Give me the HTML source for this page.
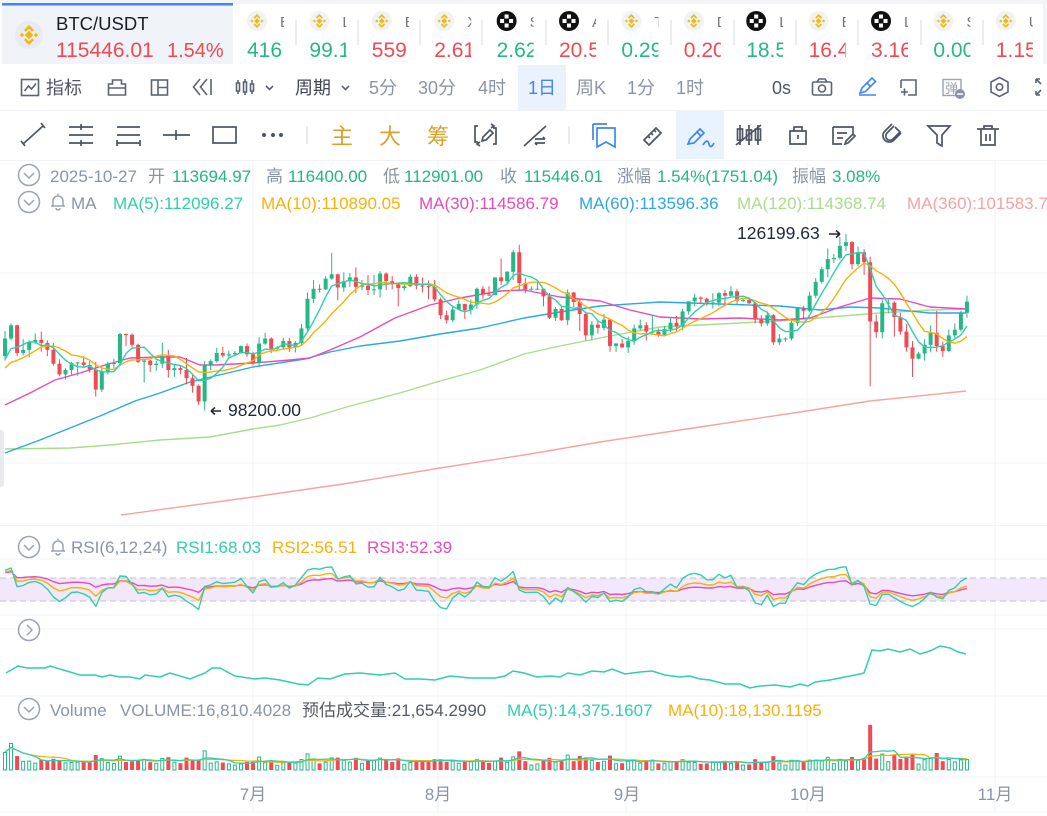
<!DOCTYPE html>
<html><head><meta charset="utf-8">
<style>
*{margin:0;padding:0;box-sizing:border-box}
html,body{width:1047px;height:816px;overflow:hidden;background:#fff}
svg{position:absolute;left:0;top:0}
</style></head><body>
<svg id="root" width="1047" height="816" viewBox="0 0 1047 816" font-family="'Liberation Sans','Noto Sans CJK SC',sans-serif">
<!-- top ticker row -->
<rect x="0" y="0" width="1047" height="4" fill="#F2F4F7"/>
<rect x="2" y="3" width="231" height="61" fill="#F0F3F8"/>
<rect x="2" y="3" width="231" height="2.5" fill="#3D86F5"/>
<rect x="1043" y="0" width="4" height="64" fill="#F2F4F7"/>
<g transform="translate(29,35)">
<circle r="14" fill="#E8ECF2"/>
<g fill="#F0B90B">
<rect x="-3" y="-3" width="6" height="6" transform="rotate(45)"/>
<rect x="-1.6" y="-1.6" width="3.2" height="3.2" transform="translate(-7,0) rotate(45)"/>
<rect x="-1.6" y="-1.6" width="3.2" height="3.2" transform="translate(7,0) rotate(45)"/>
<path d="M-5,-5 L0,-10 L5,-5 L3.2,-3.2 L0,-6.4 L-3.2,-3.2Z"/>
<path d="M-5,5 L0,10 L5,5 L3.2,3.2 L0,6.4 L-3.2,3.2Z"/>
</g></g>
<text x="56" y="30" font-size="18.5" fill="#1B1F26">BTC/USDT</text>
<text x="56" y="57" font-size="21" fill="#EF4A52">115446.01</text>
<text x="167" y="57" font-size="20" fill="#EF4A52">1.54%</text>

<defs>
<g id="bn"><circle r="10" fill="#F1F2F4"/><g fill="#F0B90B"><rect x="-2" y="-2" width="4" height="4" transform="rotate(45)"/><rect x="-1.1" y="-1.1" width="2.2" height="2.2" transform="translate(-5,0) rotate(45)"/><rect x="-1.1" y="-1.1" width="2.2" height="2.2" transform="translate(5,0) rotate(45)"/><path d="M-3.5,-3.5 L0,-7 L3.5,-3.5 L2.3,-2.3 L0,-4.6 L-2.3,-2.3Z"/><path d="M-3.5,3.5 L0,7 L3.5,3.5 L2.3,2.3 L0,4.6 L-2.3,2.3Z"/></g></g>
<g id="ok"><circle r="10" fill="#111"/><g fill="#fff"><rect x="-2" y="-6.5" width="4" height="4"/><rect x="-2" y="2.5" width="4" height="4"/><rect x="-6.5" y="-2" width="4" height="4"/><rect x="2.5" y="-2" width="4" height="4"/></g></g>
</defs>
<g font-size="21">
<svg x="247" y="0" width="37" height="64"><use href="#bn" x="10" y="21"/><text x="33" y="27" font-size="15" fill="#777">ETH</text><text x="0" y="57" fill="#26B787">416</text></svg>
<svg x="309.4" y="0" width="37" height="64"><use href="#bn" x="10" y="21"/><text x="33" y="27" font-size="15" fill="#777">LTC</text><text x="0" y="57" fill="#26B787">99.1</text></svg>
<svg x="371.8" y="0" width="37" height="64"><use href="#bn" x="10" y="21"/><text x="33" y="27" font-size="15" fill="#777">ETC</text><text x="0" y="57" fill="#EF4A52">559</text></svg>
<svg x="434.2" y="0" width="37" height="64"><use href="#bn" x="10" y="21"/><text x="33" y="27" font-size="15" fill="#777">XRP</text><text x="0" y="57" fill="#EF4A52">2.61</text></svg>
<svg x="496.6" y="0" width="37" height="64"><use href="#ok" x="10" y="21"/><text x="33" y="27" font-size="15" fill="#777">SUI</text><text x="0" y="57" fill="#26B787">2.62</text></svg>
<svg x="559" y="0" width="37" height="64"><use href="#ok" x="10" y="21"/><text x="33" y="27" font-size="15" fill="#777">AVAX</text><text x="0" y="57" fill="#EF4A52">20.56</text></svg>
<svg x="621.4" y="0" width="37" height="64"><use href="#bn" x="10" y="21"/><text x="33" y="27" font-size="15" fill="#777">TRX</text><text x="0" y="57" fill="#26B787">0.298</text></svg>
<svg x="683.8" y="0" width="37" height="64"><use href="#bn" x="10" y="21"/><text x="33" y="27" font-size="15" fill="#777">DOGE</text><text x="0" y="57" fill="#EF4A52">0.201</text></svg>
<svg x="746.2" y="0" width="37" height="64"><use href="#ok" x="10" y="21"/><text x="33" y="27" font-size="15" fill="#777">LINK</text><text x="0" y="57" fill="#26B787">18.53</text></svg>
<svg x="808.6" y="0" width="37" height="64"><use href="#bn" x="10" y="21"/><text x="33" y="27" font-size="15" fill="#777">ETC</text><text x="0" y="57" fill="#EF4A52">16.42</text></svg>
<svg x="871" y="0" width="37" height="64"><use href="#ok" x="10" y="21"/><text x="33" y="27" font-size="15" fill="#777">LDO</text><text x="0" y="57" fill="#EF4A52">3.162</text></svg>
<svg x="933.4" y="0" width="37" height="64"><use href="#bn" x="10" y="21"/><text x="33" y="27" font-size="15" fill="#777">SHIB</text><text x="0" y="57" fill="#26B787">0.008</text></svg>
<svg x="995.8" y="0" width="37" height="64"><use href="#bn" x="10" y="21"/><text x="33" y="27" font-size="15" fill="#777">UNI</text><text x="0" y="57" fill="#EF4A52">1.158</text></svg>
</g>
<g stroke="#E3E6EB" stroke-width="1.5">
<line x1="296" y1="20" x2="296" y2="45"/><line x1="358" y1="20" x2="358" y2="45"/><line x1="420" y1="20" x2="420" y2="45"/><line x1="482" y1="20" x2="482" y2="45"/><line x1="546" y1="20" x2="546" y2="45"/><line x1="608" y1="20" x2="608" y2="45"/><line x1="671" y1="20" x2="671" y2="45"/><line x1="734" y1="20" x2="734" y2="45"/><line x1="796" y1="20" x2="796" y2="45"/><line x1="858" y1="20" x2="858" y2="45"/><line x1="921" y1="20" x2="921" y2="45"/><line x1="983" y1="20" x2="983" y2="45"/>
</g>

<!-- second toolbar -->
<rect x="518" y="65" width="48" height="45" fill="#EAF2FD"/>
<g fill="none" stroke="#5B6475" stroke-width="1.6">
<rect x="21.5" y="79.5" width="17" height="16"/><polyline points="24.5,91 28.5,86 31.5,89 36,83.5"/>
<path d="M112.5,80 h9 v4 h4 v11 h-17 v-11 h4 z M108.5,88 h17"/>
<rect x="151.5" y="80" width="16" height="15"/><path d="M158,80 v15 M158,87.5 h9.5"/>
<path d="M200,79 L193.5,87 L200,95 M207,79 L200.5,87 L207,95 M211,79 v16"/>
<path d="M238,80 v14 M245,79 v16 M252,80 v14"/><rect x="236.5" y="83" width="3" height="8" fill="#fff"/><rect x="243.5" y="82" width="3" height="10" fill="#fff"/><rect x="250.5" y="84" width="3" height="7" fill="#fff"/>
<polyline points="266,86 269.5,89.5 273,86"/>
<polyline points="342,86 345.5,89.5 349,86"/>
<rect x="812.5" y="82" width="19" height="13" rx="1.5"/><path d="M817,82 l2,-3 h6 l2,3"/><circle cx="822" cy="88.5" r="3.5"/>
<path d="M901,80 h15 v15 h-8 M901,80 v8 M901,92 h7 M904.5,88.5 v7"/>
<path d="M991,82 L999.5,77.5 L1008,82 V92 L999.5,96.5 L991,92 Z"/><circle cx="999.5" cy="87" r="3.2"/>
<path d="M1036,79 l5,5 M1036,79 h4 M1036,79 v4 M1036,95 l5,-5 M1036,95 h4 M1036,95 v-4"/>
</g>
<g fill="none" stroke="#3D86F5" stroke-width="1.6"><path d="M860,93 l2,-5 l10,-10 l3.5,3.5 l-10,10 z M867,83 l3.5,3.5 M859,95 h17"/></g>
<rect x="943" y="79.5" width="18" height="16" fill="none" stroke="#9AA3B2" stroke-width="1.4"/>
<text x="945" y="93" font-size="13" fill="#9AA3B2">弹</text>
<circle cx="960" cy="94" r="5" fill="#8A94A6"/><rect x="957" y="93.3" width="6" height="1.5" fill="#fff"/>
<g font-size="18">
<text x="46" y="94" fill="#4D5666">指标</text>
<text x="295" y="94" fill="#3F4756">周期</text>
<text x="369" y="94" fill="#8A94A6">5分</text>
<text x="418" y="94" fill="#8A94A6">30分</text>
<text x="478" y="94" fill="#8A94A6">4时</text>
<text x="528" y="94" fill="#3D86F5">1日</text>
<text x="576" y="94" fill="#8A94A6">周K</text>
<text x="627" y="94" fill="#8A94A6">1分</text>
<text x="676" y="94" fill="#8A94A6">1时</text>
<text x="772" y="94" fill="#4D5666">0s</text>
</g>
<line x1="0" y1="110.5" x2="1047" y2="110.5" stroke="#F0F2F5"/>

<!-- third toolbar -->
<rect x="676" y="111" width="48" height="48" fill="#E8F3FE"/>
<g fill="none" stroke="#4B5563" stroke-width="1.7">
<path d="M23,144 L43,126 M21,141 l4,5 M41,123 l4,5"/>
<path d="M69,127 h24 M69,135 h24 M69,143 h24 M81,124 v6 M81,140 v6"/>
<path d="M117,127 h23 M117,135 h23 M117,143 h23 M117,140 v6 M140,140 v6"/>
<path d="M163,135 h27 M176,130 v10"/>
<rect x="213" y="127" width="23" height="16"/>
<line x1="307" y1="126" x2="307" y2="144" stroke="#E5E7EB"/>
<path d="M478,126 h-3 v16 h3 M493,144 h3 v-16 h-3 M482,141 l1,-4 l7,-7 l3,3 l-7,7 z M491,124 l3,2 l-3,2 M480,146 l-3,-2 l3,-2"/>
<path d="M524,146 L546,126 M535,139 h10 M535,143 h10 M543,137 l2,2 M537,145 l-2,-2"/>
<line x1="569" y1="126" x2="569" y2="144" stroke="#E5E7EB"/>
<path d="M644,140 l12,-12 l5,5 l-12,12 z M648,136 l2,2 M651,133 l2,2 M654,130 l2,2"/>
<path d="M740,125 v20 M749,125 v20 M758,125 v20 M736,145 l25,-20"/><rect x="737.5" y="129" width="5" height="11"/><rect x="746.5" y="130" width="5" height="10"/><rect x="755.5" y="129" width="5" height="11"/>
<path d="M790,131 h16 v13 h-16 z M794,131 v-4 h8 v4 M798,135 v4"/>
<path d="M833,127 h20 v7 M833,127 v17 h9 M837,133 h10 M837,138 h6 M845,144 l1,-3 l7,-7 l2,2 l-7,7 z"/>
<path d="M895,127 l5,5 l-7,7 a4,4 0 0 1 -6,-6 l7,-7 M886,128 l0,0"/><path d="M892,124 l-8,8 a6.5,6.5 0 0 0 9,9 l8,-8"/>
<path d="M928,126 h22 l-8,9 v11 l-5,-3 v-8 z"/>
<path d="M977,129 h22 M981,129 v16 h14 v-16 M984,129 v-3 h8 v3 M986,134 v7 M990,134 v7"/>
</g>
<g fill="#4B5563"><circle cx="264" cy="135" r="2"/><circle cx="273" cy="135" r="2"/><circle cx="281" cy="135" r="2"/></g>
<g fill="none" stroke="#3D86F5" stroke-width="1.7">
<path d="M593,124 h14 M593,124 v16 M597,128 h18 v19 l-9,-5 l-9,5 z"/>
<path d="M688,144 l2,-5 l10,-10 l4,4 l-10,10 z M697,132 l4,4 M703,145 c3,-5 5,-5 6,-1 c1,4 3,3 5,-1"/>
</g>
<g font-size="22" fill="#D9A32B">
<text x="331" y="144">主</text><text x="379" y="144">大</text><text x="427" y="144">筹</text>
</g>
<line x1="0" y1="160.5" x2="1047" y2="160.5" stroke="#F0F2F5"/>

<!-- grid -->
<g stroke="#F2F3F5" stroke-width="1">
<line x1="253" y1="161" x2="253" y2="812"/><line x1="438" y1="161" x2="438" y2="812"/><line x1="626" y1="161" x2="626" y2="812"/><line x1="807" y1="161" x2="807" y2="812"/><line x1="995" y1="161" x2="995" y2="812"/>
<line x1="0" y1="273" x2="1047" y2="273"/><line x1="0" y1="336" x2="1047" y2="336"/><line x1="0" y1="399" x2="1047" y2="399"/><line x1="0" y1="463" x2="1047" y2="463"/><line x1="0" y1="525.5" x2="1047" y2="525.5"/>
<line x1="0" y1="559" x2="1047" y2="559"/><line x1="0" y1="615" x2="1047" y2="615"/><line x1="0" y1="629" x2="1047" y2="629"/><line x1="0" y1="696" x2="1047" y2="696"/><line x1="0" y1="777" x2="1047" y2="777"/><line x1="0" y1="812" x2="1047" y2="812"/>
</g>

<!-- info rows -->
<defs>
<g id="chev"><circle r="10.5" fill="none" stroke="#9AA3B2" stroke-width="1.5"/><polyline points="-5,-2 0,3 5,-2" fill="none" stroke="#9AA3B2" stroke-width="1.5"/></g>
<g id="bell" fill="none" stroke="#9AA3B2" stroke-width="1.5"><path d="M-7,5 h14 M-5,5 v-5 a5,5 0 0 1 10,0 v5 M0,-6 v-1.5"/><path d="M-2,7 a2,2 0 0 0 4,0"/></g>
</defs>
<use href="#chev" x="29" y="175"/>
<use href="#chev" x="29" y="202"/>
<use href="#bell" x="58" y="201"/>
<g font-size="17">
<text x="50" y="182" fill="#8A94A6">2025-10-27</text>
<text x="148" y="182" fill="#8A94A6">开</text><text x="172" y="182" fill="#21B684">113694.97</text>
<text x="266" y="182" fill="#8A94A6">高</text><text x="288" y="182" fill="#21B684">116400.00</text>
<text x="383" y="182" fill="#8A94A6">低</text><text x="404" y="182" fill="#21B684">112901.00</text>
<text x="500" y="182" fill="#8A94A6">收</text><text x="524" y="182" fill="#21B684">115446.01</text>
<text x="617" y="182" fill="#8A94A6">涨幅</text><text x="657" y="182" fill="#21B684">1.54%(1751.04)</text>
<text x="792" y="182" fill="#8A94A6">振幅</text><text x="832" y="182" fill="#21B684">3.08%</text>
<text x="71" y="209" fill="#8A94A6">MA</text>
<text x="113" y="209" fill="#2FCFAE">MA(5):112096.27</text>
<text x="261" y="209" fill="#F9B109">MA(10):110890.05</text>
<text x="419" y="209" fill="#E84BB8">MA(30):114586.79</text>
<text x="579" y="209" fill="#2AA8E8">MA(60):113596.36</text>
<text x="737" y="209" fill="#A9DD8B">MA(120):114368.74</text>
<text x="907" y="209" fill="#F7A3A3">MA(360):101583.72</text>
</g>

<!-- left handle -->
<rect x="-4" y="430" width="8" height="57" rx="3" fill="#E8EAED"/>

<!-- MA lines hand-drawn -->
<g fill="none" stroke-width="1.4" stroke-linejoin="round">
<polyline stroke="#F7A3A3" points="121,515 253,497 350,483 440,468 524,455 600,442 700,427 800,412 870,401 966,391"/>
<polyline stroke="#A9DD8B" points="5,449 70,448 110,445 160,440 210,437 253,429 280,425 310,418 350,406 400,393 440,381 480,370 524,354 560,346 610,336 660,327 720,324 780,321 830,317 880,313 930,310 966,309"/>
<polyline stroke="#2AA8E8" points="5,453 40,440 70,428 100,416 135,401 160,393 190,382 215,376 253,367 305,359 330,352 360,346 400,341 440,334 480,328 524,318 560,312 600,306 660,302 720,304 780,306 820,310 850,307 880,308 930,313 966,313"/>
<polyline stroke="#E84BB8" points="5,405 30,393 55,380 80,373 105,365 130,358 160,357 180,357 200,365 215,365 253,363 290,360 310,358 330,350 360,337 395,318 430,305 460,298 500,291 524,290 560,297 600,301 630,310 660,317 700,319 740,318 780,320 810,318 840,307 870,298 900,299 930,307 966,309"/>
</g>
<g id="cd"></g>
<g id="ma"></g>

<!-- annotations -->
<path d="M211,411 h10 M211,411 l4,-3.5 M211,411 l4,3.5" stroke="#1F2937" stroke-width="1.5" fill="none"/>
<text x="228" y="416" font-size="17.5" fill="#1F2937">98200.00</text>
<text x="737" y="239" font-size="17.5" fill="#1F2937">126199.63</text>
<path d="M829,234 h11 M840,234 l-4,-3.5 M840,234 l-4,3.5" stroke="#1F2937" stroke-width="1.5" fill="none"/>

<!-- RSI pane -->
<use href="#chev" x="29" y="547"/>
<use href="#bell" x="58" y="546"/>
<g font-size="17">
<text x="71" y="553" fill="#8A94A6">RSI(6,12,24)</text>
<text x="176" y="553" fill="#2FCFAE">RSI1:68.03</text>
<text x="272" y="553" fill="#F9B109">RSI2:56.51</text>
<text x="367" y="553" fill="#E84BB8">RSI3:52.39</text>
</g>
<rect x="0" y="578" width="1047" height="23" fill="#F3E7FC"/>
<line x1="0" y1="578" x2="1047" y2="578" stroke="#C3C3C8" stroke-dasharray="6,4"/>
<line x1="0" y1="601" x2="1047" y2="601" stroke="#C3C3C8" stroke-dasharray="6,4"/>
<g id="rsi"></g>

<!-- collapsed pane -->
<circle cx="29" cy="630" r="10.5" fill="none" stroke="#9AA3B2" stroke-width="1.5"/>
<polyline points="27,625 32,630 27,635" fill="none" stroke="#9AA3B2" stroke-width="1.5"/>
<polyline fill="none" stroke="#2FCFAE" stroke-width="1.5" points="6,673 18,666 27,668 45,668 50,666 70,672 80,675 95,675 102,677 110,675 120,677 130,677 140,679 145,675 160,677 170,673 190,679 205,673 212,668 220,668 235,676 255,679 265,678 280,680 298,684 308,685 318,678 330,679 345,674 360,673 380,675 395,673 405,679 420,679 435,680 450,676 470,678 485,678 495,678 505,676 513,671 524,673 537,677 550,676 560,677 568,673 580,675 592,671 604,672 612,669 625,674 640,672 652,671 665,675 680,677 690,676 700,679 710,680 725,684 740,684 750,688 760,686 775,685 790,687 800,684 808,686 815,682 830,680 845,677 860,674 864,673 872,650 880,651 888,649 900,652 910,649 920,654 930,651 940,646 950,648 958,652 966,654"/>

<!-- volume pane -->
<use href="#chev" x="29" y="709"/>
<g font-size="17">
<text x="50" y="716" fill="#8A94A6">Volume</text>
<text x="120" y="716" fill="#8A94A6">VOLUME:16,810.4028</text>
<text x="302" y="716" fill="#555B66">预估成交量:21,654.2990</text>
<text x="507" y="716" fill="#2FCFAE">MA(5):14,375.1607</text>
<text x="668" y="716" fill="#F9B109">MA(10):18,130.1195</text>
</g>
<g id="vol"></g>

<!-- x axis -->
<g font-size="17" fill="#8A94A6" text-anchor="middle">
<text x="253" y="800">7月</text><text x="438" y="800">8月</text><text x="627" y="800">9月</text><text x="808" y="800">10月</text><text x="995" y="800">11月</text>
</g>
</svg>
<script>
(function(){
var D=[
[106.8,110.8,106.1,109.6],[109.6,112.0,109.3,111.7],[111.7,111.8,106.8,107.3],[107.3,109.5,106.9,107.8],[107.8,109.3,106.6,109.0],[109.0,110.4,108.7,109.4],[109.4,110.7,107.5,108.9],[108.9,109.3,106.8,107.8],[107.8,108.9,105.3,105.6],[105.6,106.3,103.6,103.9],[103.9,104.9,103.1,104.6],
[104.6,105.9,103.9,105.7],[105.7,105.9,103.7,105.8],[105.8,106.8,104.9,105.4],[105.4,106.0,104.2,104.7],[104.7,105.9,100.4,101.5],[101.5,105.0,101.1,104.3],[104.3,105.9,103.9,105.6],[105.6,106.4,104.9,105.7],[105.7,110.5,105.3,110.3],[110.3,110.4,108.4,110.2],
[110.2,110.4,108.2,108.6],[108.6,108.8,105.7,105.9],[105.9,106.2,102.6,106.1],[106.1,106.2,104.3,105.4],[105.4,106.1,104.5,105.6],[105.6,108.9,104.9,106.8],[106.8,107.8,103.4,104.6],[104.6,105.6,103.5,104.9],[104.9,105.3,103.9,104.6],[104.6,106.5,102.3,103.3],
[103.3,104.0,101.0,102.1],[102.1,102.3,99.0,99.6],[99.6,106.0,98.2,105.4],[105.4,106.3,104.6,106.0],[106.0,108.1,105.8,107.3],[107.3,108.3,106.6,106.9],[106.9,107.7,106.4,107.1],[107.1,107.6,106.9,107.3],[107.3,108.5,107.2,108.4],[108.4,108.8,106.7,107.1],
[107.1,107.5,105.3,105.7],[105.7,109.8,105.1,108.8],[108.8,110.5,108.6,109.6],[109.6,109.8,107.3,108.0],[108.0,108.4,107.8,108.2],[108.2,109.7,107.8,109.2],[109.2,109.7,107.5,108.2],[108.2,109.2,107.4,108.9],[108.9,111.9,108.4,111.2],[111.2,116.9,110.6,115.9],
[115.9,118.9,115.2,117.5],[117.5,118.2,116.9,117.4],[117.4,119.5,117.3,119.1],[119.1,123.2,118.9,119.8],[119.8,119.9,115.7,117.7],[117.7,120.1,117.0,118.7],[118.7,120.0,117.8,119.3],[119.3,120.9,116.8,117.8],[117.8,118.9,117.3,118.0],[118.0,119.7,116.5,117.3],
[117.3,119.7,116.5,117.4],[117.4,120.3,116.1,119.9],[119.9,120.1,117.3,118.7],[118.7,119.5,117.4,118.3],[118.3,118.5,114.7,117.6],[117.6,118.3,117.2,117.9],[117.9,119.8,117.8,119.4],[119.4,119.8,117.4,118.0],[118.0,119.3,116.9,117.9],[117.9,118.8,115.8,117.8],[117.8,118.9,115.5,115.8],
[115.8,116.1,112.7,113.3],[113.3,114.0,112.0,112.5],[112.5,114.8,112.2,114.2],[114.2,115.7,114.1,115.1],[115.1,115.1,112.7,114.1],[114.1,115.8,113.4,115.0],[115.0,117.7,114.3,117.5],[117.5,117.9,115.9,116.6],[116.6,117.9,116.3,116.5],[116.5,119.3,116.5,119.3],
[119.3,122.3,118.1,118.7],[118.7,120.3,118.2,120.2],[120.2,123.7,118.9,123.3],[123.3,124.5,117.2,118.4],[118.4,119.2,116.8,117.4],[117.4,117.9,117.2,117.5],[117.5,118.6,117.3,117.5],[117.5,117.5,114.7,116.3],[116.3,116.8,112.7,112.9],[112.9,114.6,112.4,114.3],
[114.3,114.8,112.4,112.5],[112.5,117.4,111.7,116.9],[116.9,117.0,114.6,115.4],[115.4,115.8,110.8,113.5],[113.5,113.6,109.3,110.1],[110.1,112.4,109.3,111.8],[111.8,112.4,110.4,111.3],[111.3,113.5,110.9,112.6],[112.6,112.7,107.5,108.4],[108.4,108.9,107.5,108.8],[108.8,109.5,108.1,108.2],
[108.2,109.9,107.3,109.2],[109.2,111.8,108.6,111.2],[111.2,112.6,110.9,111.7],[111.7,112.2,109.3,110.7],[110.7,113.4,110.2,110.7],[110.7,111.2,109.9,110.2],[110.2,111.6,110.0,111.1],[111.1,112.9,110.6,112.1],[112.1,113.2,110.8,111.5],[111.5,114.3,110.9,113.9],
[113.9,115.5,113.4,115.5],[115.5,116.7,114.7,116.1],[116.1,116.3,115.2,115.9],[115.9,116.1,114.8,115.3],[115.3,116.8,114.4,115.3],[115.3,117.0,114.7,116.8],[116.8,117.3,114.7,116.4],[116.4,117.9,116.3,117.1],[117.1,117.5,115.1,115.6],[115.6,116.1,115.4,115.7],
[115.7,115.9,115.1,115.2],[115.2,115.4,112.0,112.6],[112.6,113.3,111.5,112.0],[112.0,113.9,111.6,113.3],[113.3,113.5,108.6,109.0],[109.0,110.3,108.6,109.6],[109.6,109.8,109.1,109.6],[109.6,112.4,109.3,112.1],[112.1,114.5,111.6,114.4],[114.4,114.8,112.7,114.0],
[114.0,117.0,113.8,116.4],[116.4,119.2,116.0,118.6],[118.6,121.0,118.3,120.6],[120.6,123.9,119.3,122.2],[122.2,123.0,121.6,122.4],[122.4,125.7,122.1,124.3],[124.3,126.2,123.5,124.9],[124.9,125.1,120.6,121.4],[121.4,124.2,121.1,123.3],[123.3,123.8,119.7,121.7],
[121.7,122.6,102.0,112.3],[112.3,113.4,109.7,110.6],[110.6,115.8,109.6,115.2],[115.2,116.0,113.6,115.3],[115.3,115.5,109.9,113.0],[113.0,113.7,110.2,110.7],[110.7,111.9,107.5,108.2],[108.2,109.2,103.5,106.4],[106.4,107.5,106.3,107.2],[107.2,109.5,106.1,108.6],
[108.6,111.7,107.4,110.5],[110.5,114.0,107.5,108.4],[108.4,109.1,106.7,107.6],[107.6,111.0,107.5,110.1],[110.1,112.0,109.7,111.0],[111.0,114.0,110.7,113.7],[113.69,116.4,112.9,115.45]
];
var pre=[87.5,93.4,93.7,93.9,94.7,94.6,93.8,95.0,94.3,94.2,96.5,96.9,95.9,94.3,94.7,96.8,97.0,103.0,102.9,104.6,104.1,102.8,104.2,103.5,103.7,103.5,103.1,106.4,105.6,106.8];
var NS='http://www.w3.org/2000/svg';
function X(k){return 5+k*6.05;}
function Y(p){return 399-(p-100)*6.3;}
function el(par,tag,at){var e=document.createElementNS(NS,tag);for(var a in at)e.setAttribute(a,at[a]);par.appendChild(e);return e;}
var G='#26B787',R='#EF4B55';
var cd=document.getElementById('cd');
D.forEach(function(d,k){
 var o=d[0],h=d[1],l=d[2],c=d[3],x=X(k),col=c>=o?G:R;
 el(cd,'line',{x1:x,x2:x,y1:Y(h),y2:Y(l),stroke:col,'stroke-width':1});
 var y1=Y(Math.max(o,c)),y2=Y(Math.min(o,c));
 el(cd,'rect',{x:x-2,y:y1,width:4,height:Math.max(1,y2-y1),fill:col});
});
var all=pre.concat(D.map(function(d){return d[3];})),P=pre.length;
function ma(n,k){var s=0;for(var i=k+P-n+1;i<=k+P;i++)s+=all[i];return s/n;}
var mg=document.getElementById('ma');
[[10,'#F9B109'],[5,'#2FCFAE']].forEach(function(m){
 var pts=D.map(function(d,k){return X(k).toFixed(1)+','+Y(ma(m[0],k)).toFixed(1);}).join(' ');
 el(mg,'polyline',{points:pts,fill:'none',stroke:m[1],'stroke-width':1.4,'stroke-linejoin':'round'});
});
function rsi(n){var ag=0,al=0,out=[];for(var i=1;i<all.length;i++){var ch=all[i]-all[i-1],g=Math.max(ch,0),lo=Math.max(-ch,0);if(i<=n){ag+=g/n;al+=lo/n;}else{ag=(ag*(n-1)+g)/n;al=(al*(n-1)+lo)/n;}out[i]=(ag+al)===0?50:100*ag/(ag+al);}return out;}
var rg=document.getElementById('rsi');
[[24,'#E84BB8'],[12,'#F9B109'],[6,'#2FCFAE']].forEach(function(m){
 var r=rsi(m[0]);
 var pts=D.map(function(d,k){var v=r[k+P];return X(k).toFixed(1)+','+(620-v*0.6).toFixed(1);}).join(' ');
 el(rg,'polyline',{points:pts,fill:'none',stroke:m[1],'stroke-width':1.4,'stroke-linejoin':'round'});
});
var vg=document.getElementById('vol');
var vh=D.map(function(d,k){return Math.min(46,4+2.0*(d[1]-d[2]));});
vh[0]=18;vh[1]=27;
D.forEach(function(d,k){
 var x=X(k),h=vh[k];
 if(d[3]>=d[0]) el(vg,'rect',{x:x-1.5,y:770-h+0.5,width:3,height:h-0.5,fill:'#fff',stroke:G,'stroke-width':1});
 else el(vg,'rect',{x:x-2,y:770-h,width:4,height:h,fill:R});
});
function vma(n,k){var s=0,c=0;for(var i=Math.max(0,k-n+1);i<=k;i++){s+=vh[i];c++;}return s/c;}
[[10,'#F9B109'],[5,'#2FCFAE']].forEach(function(m){
 var pts=D.map(function(d,k){return X(k).toFixed(1)+','+(770-vma(m[0],k)).toFixed(1);}).join(' ');
 el(vg,'polyline',{points:pts,fill:'none',stroke:m[1],'stroke-width':1.3,'stroke-linejoin':'round'});
});
})();
</script>
</body></html>
